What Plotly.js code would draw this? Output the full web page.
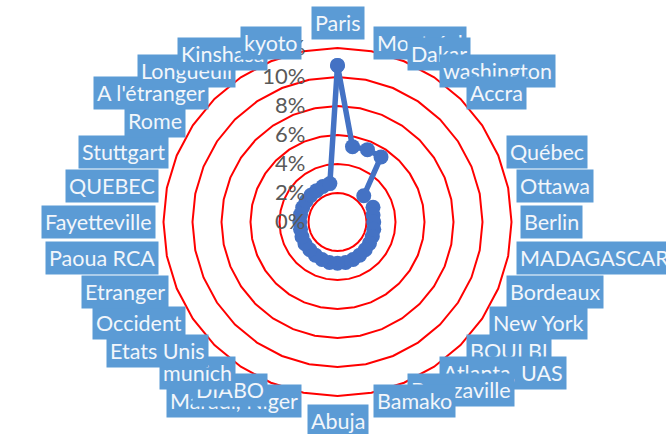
<!DOCTYPE html>
<html>
<head>
<meta charset="utf-8">
<script src="https://cdn.plot.ly/plotly-3.0.1.min.js"></script>
<style>html,body{margin:0;padding:0;background:#fff;}#chart{width:666px;height:434px;}</style>
</head>
<body>
<div id="chart"></div>
<script>
// Categories (clockwise from top). One category is blank in the source.
const categories = ["Paris","Montréal","Dakar","washington","Accra"," ","Québec","Ottawa","Berlin",
  "MADAGASCAR, Antananarivo","Bordeaux","New York","BOULBI","Atlanta, UAS","Brazzaville","Bamako","Abuja",
  "Maradi, Niger","DIABO","munich","Etats Unis","Occident","Etranger","Paoua RCA","Fayetteville",
  "QUEBEC","Stuttgart","Rome","A l'étranger","Longueuil","Kinshasa","kyoto"];
const shares = [0.108,0.053,0.054,0.054,0.0256,null,0.0265,0.025,0.025,
  0.0255,0.026,0.0265,0.027,0.0275,0.028,0.0285,0.0285,
  0.0285,0.028,0.0275,0.027,0.027,0.0265,0.026,0.026,
  0.026,0.026,0.026,0.026,0.026,0.0265,0.027];
const radialTicks = [0,0.02,0.04,0.06,0.08,0.10,0.12];
const radialTickText = ["0%","2%","4%","6%","8%","10%","12%"];

const W = 666, H = 434;
const cx = 337.5, cy = 222, R = 174;
const dom = {x:[(cx-R)/W,(cx+R)/W], y:[(H-cy-R)/H,(H-cy+R)/H]};

const trace = {
  type:'scatterpolar',
  theta: categories.concat([categories[0]]),
  r: shares.concat([shares[0]]),
  mode:'lines+markers',
  connectgaps:false,
  line:{color:'#4472C4', width:5.5},
  marker:{color:'#4472C4', size:15},
  hoverinfo:'skip'
};

// category labels placed around the outer ring
const N = categories.length;
const labelR = R*182/174;
const annotations = categories.map((c,i)=>{
  const a = i*360/N;
  const rad = a*Math.PI/180;
  const px = cx + labelR*Math.sin(rad), py = cy - labelR*Math.cos(rad);
  let xa='center', ya='middle';
  if (a===0) ya='bottom'; else if (a===180) ya='top';
  else if (a<180) xa='left'; else xa='right';
  if (c.trim()==='') return null;
  return {xref:'paper',yref:'paper',x:px/W,y:1-py/H,xanchor:xa,yanchor:ya,
    text:c,showarrow:false,bgcolor:'#5B9BD5',borderpad:3,
    font:{family:'Lato, Calibri, sans-serif',size:21.5,color:'#F2F6FB'}};
}).filter(Boolean);

const layout = {
  width:W,height:H,margin:{l:0,r:0,t:0,b:0},
  paper_bgcolor:'#fff',showlegend:false,
  polar:{
    domain:dom, bgcolor:'#fff', gridshape:'linear',
    angularaxis:{rotation:90,direction:'clockwise',showgrid:false,showline:true,
      linecolor:'#FF0000',linewidth:2,showticklabels:false,ticks:''},
    radialaxis:{range:[0,0.12],tickvals:radialTicks,ticktext:radialTickText,angle:90,
      side:'counterclockwise',tickangle:90,showline:false,ticks:'outside',ticklen:24,
      tickcolor:'rgba(0,0,0,0)',
      gridcolor:'#FF0000',gridwidth:2,
      tickfont:{family:'Lato, Calibri, sans-serif',size:22,color:'#595959'}}
  },
  annotations:annotations
};
Plotly.newPlot('chart',[trace],layout,{displayModeBar:false,staticPlot:true});
</script>
</body>
</html>
